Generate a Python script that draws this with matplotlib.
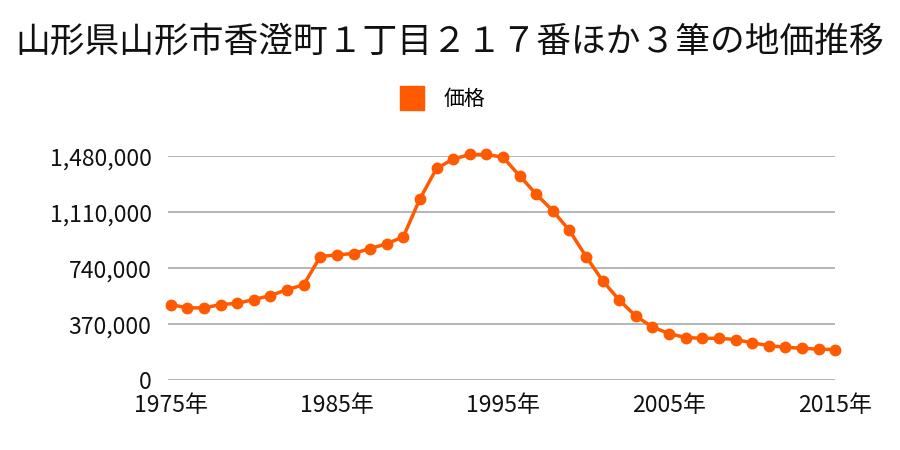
import matplotlib
matplotlib.use('Agg')
import matplotlib.pyplot as plt
from matplotlib.ticker import FuncFormatter

plt.rcParams['font.family'] = ['Noto Sans CJK JP', 'DejaVu Sans']

title = '山形県山形市香澄町１丁目２１７番ほか３筆の地価推移'
series_name = '価格'
years = list(range(1975, 2016))
prices = [500000, 478000, 478000, 500000, 508000, 533000, 559000, 599000, 630000, 817000,
          828000, 837000, 870000, 901000, 948000, 1198000, 1399000, 1460000, 1491000, 1491000,
          1473000, 1350000, 1229000, 1119000, 989000, 817000, 657000, 529000, 423000, 352000,
          308000, 282000, 277000, 277000, 269000, 247000, 229000, 218000, 211000, 205000,
          203000]
yticks = [0, 370000, 740000, 1110000, 1480000]
xticks = [1975, 1985, 1995, 2005, 2015]

color = '#ff5a00'

fig = plt.figure(figsize=(9, 4.5), dpi=100)
ax = fig.add_axes([0.187, 0.155, 0.741, 0.498])

ax.plot(years, prices, color=color, linewidth=2.5, marker='o', markersize=7.5,
        clip_on=False, zorder=3)

ax.set_xlim(1974.85, 2015)
ax.set_ylim(0, 1480000)
ax.set_yticks(yticks)
ax.yaxis.set_major_formatter(FuncFormatter(lambda v, p: '{:,.0f}'.format(v)))
ax.set_xticks(xticks)
ax.set_xticklabels(['%d年' % y for y in xticks])
ax.tick_params(axis='both', labelsize=16.5, length=0, colors='#111111')
ax.tick_params(axis='x', pad=10)
ax.tick_params(axis='y', pad=12)
ax.grid(axis='y', color='#aaaaaa', linewidth=1.2)
ax.set_axisbelow(True)
for s in ax.spines.values():
    s.set_visible(False)

fig.text(0.5, 0.905, title, ha='center', va='center', fontsize=25, color='#111111')
fig.legend([plt.Line2D([], [], color=color, marker='s', linestyle='none', markersize=17)],
           [series_name], loc='center', bbox_to_anchor=(0.487, 0.78), frameon=False,
           fontsize=15, handletextpad=0.5)

fig.savefig('out.png', dpi=100)
